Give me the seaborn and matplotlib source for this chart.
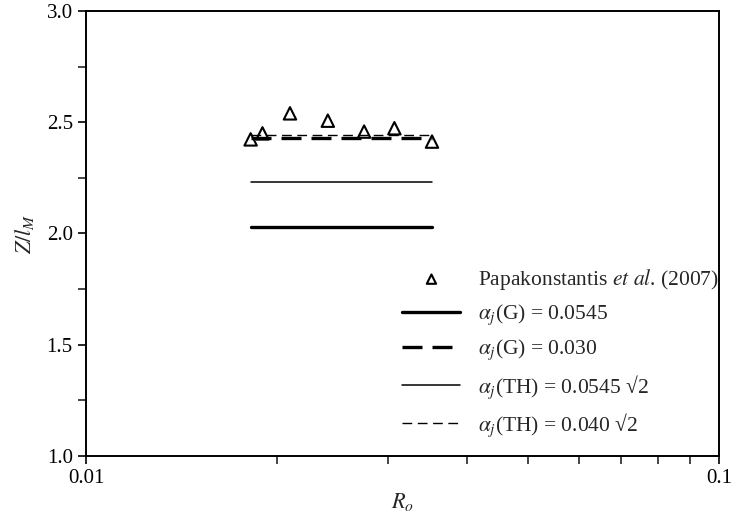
import seaborn as sns
import matplotlib.pyplot as plt
import numpy as np
import pandas as pd

# Papakonstantis et al. (2007) data points
ro_data = [0.0182, 0.0190, 0.0210, 0.0241, 0.0275, 0.0307, 0.0352]
z_data = [2.423, 2.450, 2.540, 2.507, 2.458, 2.473, 2.413]

# model predictions (constant over the data range)
model_labels = [
    r'$\alpha_j$(G) = 0.0545',
    r'$\alpha_j$(G) = 0.030',
    r'$\alpha_j$(TH) = 0.0545 √2',
    r'$\alpha_j$(TH) = 0.040 √2',
]
model_values = [2.031, 2.428, 2.230, 2.443]

sns.set_style('ticks')
plt.rcParams['font.family'] = ['Liberation Serif', 'DejaVu Serif']
plt.rcParams['mathtext.fontset'] = 'stix'

fig = plt.figure(figsize=(7.33, 5.18), dpi=100)
ax = fig.add_axes([0.1173, 0.1197, 0.8637, 0.8591])

df = pd.DataFrame({'Ro': ro_data, 'Z': z_data})
x_ends = [df['Ro'].min(), df['Ro'].max()]

styles = [
    dict(color='black', linewidth=2.4, linestyle='-'),
    dict(color='black', linewidth=2.4, linestyle=(0, (6, 3))),
    dict(color='black', linewidth=1.1, linestyle='-'),
    dict(color='black', linewidth=1.0, linestyle=(0, (7, 4))),
]

sns.scatterplot(data=df, x='Ro', y='Z', marker='^', s=80, facecolor='none',
                edgecolor='black', linewidth=1.5, ax=ax,
                label=r'Papakonstantis $\mathit{et\ al}$. (2007)', zorder=3)

for label, value, st in zip(model_labels, model_values, styles):
    line_df = pd.DataFrame({'Ro': x_ends, 'Z': [value, value]})
    sns.lineplot(data=line_df, x='Ro', y='Z', ax=ax, label=label, **st)

ax.set_xscale('log')
ax.set_xlim(0.01, 0.1)
ax.set_ylim(1.0, 3.0)
ax.set_xticks([0.01, 0.1])
ax.set_xticklabels(['0.01', '0.1'])
ax.set_yticks(np.arange(1.0, 3.01, 0.5))
ax.set_yticklabels([f'{v:.1f}' for v in np.arange(1.0, 3.01, 0.5)])
ax.set_yticks(np.arange(1.25, 3.0, 0.5), minor=True)
ax.tick_params(axis='both', which='major', direction='out', length=6, width=1.2,
               labelsize=15, colors='black')
ax.tick_params(axis='both', which='minor', direction='out', length=6, width=1.2)
ax.tick_params(axis='x', which='minor', labelbottom=False)

for sp in ax.spines.values():
    sp.set_linewidth(1.4)
    sp.set_color('black')

ax.set_xlabel(r'$R_o$', fontsize=16, labelpad=2)
ax.set_ylabel(r'$Z/l_M$', fontsize=16, labelpad=8)

leg = ax.legend(loc='lower right', bbox_to_anchor=(1.03, -0.005), frameon=False,
                fontsize=15.5, handlelength=2.7, handletextpad=0.8,
                labelspacing=0.5, markerscale=0.75)

fig.savefig('out.png', dpi=100)
